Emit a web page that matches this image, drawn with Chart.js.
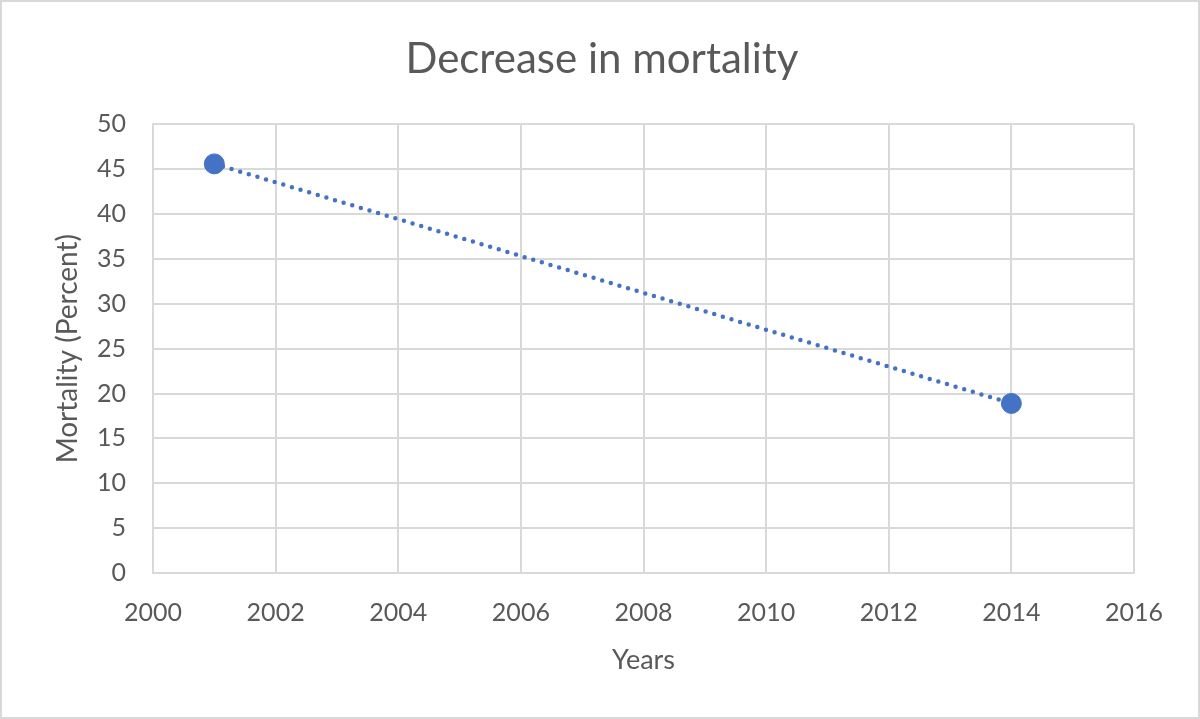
<!DOCTYPE html>
<html>
<head>
<meta charset="utf-8">
<script src="https://cdn.jsdelivr.net/npm/chart.js@4"></script>
<style>
  body { margin: 0; background: #fff; }
  .frame { position: relative; width: 1200px; height: 719px; box-sizing: border-box; border: 2px solid #d9d9d9; }
  #myChart { position: absolute; left: 0; top: 0; }
</style>
</head>
<body>
<div class="frame"><canvas id="myChart" width="1200" height="719"></canvas></div>
<script>
// values
const years = [2001, 2014];
const mortality = [45.6, 18.9];
const xTicks = [2000, 2002, 2004, 2006, 2008, 2010, 2012, 2014, 2016];
const yTicks = [0, 5, 10, 15, 20, 25, 30, 35, 40, 45, 50];

const points = years.map((x, i) => ({ x: x, y: mortality[i] }));
const grey = '#595959';
const font = 'Lato, "Open Sans", sans-serif';

const ctx = document.getElementById('myChart').getContext('2d');

const myChart = new Chart(ctx, {
    type: 'scatter',
    data: {
        datasets: [{
            label: 'Trend',
            data: points,
            showLine: true,
            pointRadius: 0,
            borderColor: '#4472c4',
            borderWidth: 4.5,
            borderDash: [0, 9],
            borderCapStyle: 'round',
            order: 2
        }, {
            label: 'Mortality',
            data: points,
            pointRadius: 10,
            pointBackgroundColor: '#4472c4',
            pointBorderColor: '#4472c4',
            order: 1
        }]
    },
    options: {
        responsive: false,
        animation: false,
        layout: { padding: 0 },
        plugins: {
            legend: { display: false },
            tooltip: { enabled: false },
            title: {
                display: true,
                text: 'Decrease in mortality',
                color: grey,
                font: { family: font, size: 42, weight: 'normal' },
                padding: { top: 32, bottom: 40 }
            }
        },
        scales: {
            x: {
                type: 'linear',
                min: xTicks[0],
                max: xTicks[xTicks.length - 1],
                afterBuildTicks: s => { s.ticks = xTicks.map(v => ({ value: v })); },
                afterFit: s => { s.height = 148; },
                grid: { color: '#d9d9d9', lineWidth: 2, drawTicks: false },
                border: { color: '#d9d9d9', width: 2 },
                ticks: { color: grey, font: { family: font, size: 25 }, padding: 25, callback: v => v },
                title: {
                    display: true,
                    text: 'Years',
                    color: grey,
                    font: { family: font, size: 27 },
                    padding: { top: 0, bottom: 45 }
                }
            },
            y: {
                min: yTicks[0],
                max: yTicks[yTicks.length - 1],
                afterBuildTicks: s => { s.ticks = yTicks.map(v => ({ value: v })); },
                afterFit: s => { s.width = 151; },
                grid: { color: '#d9d9d9', lineWidth: 2, drawTicks: false },
                border: { color: '#d9d9d9', width: 2 },
                ticks: { color: grey, font: { family: font, size: 25 }, padding: 27 },
                title: {
                    display: true,
                    text: 'Mortality (Percent)',
                    color: grey,
                    font: { family: font, size: 28 },
                    padding: { top: 49, bottom: 0 }
                }
            },
            // empty right-hand spacer so the plot ends where the reference's does
            spacer: {
                position: 'right',
                min: 0,
                max: 1,
                afterFit: s => { s.width = 68; },
                grid: { display: false },
                border: { display: false },
                ticks: { display: false }
            }
        }
    }
})
</script>
</body>
</html>
